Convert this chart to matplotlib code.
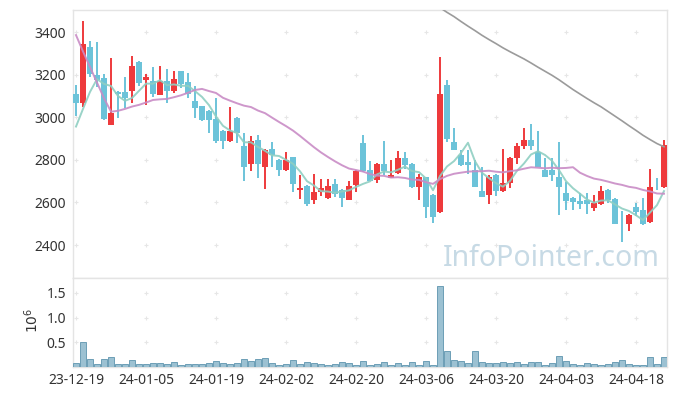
import numpy as np
import matplotlib
matplotlib.use("Agg")
import matplotlib.pyplot as plt

plt.rcParams['font.family'] = ['Noto Sans', 'DejaVu Sans']

# ---- data ----
opens = [3110, 3070, 3331, 3198, 3185, 2966, 3120, 3120, 3124, 3261,
         3177, 3171, 3107, 3171, 3124, 3218, 3165, 3077, 3054, 3031,
         2993, 2937, 2890, 2998, 2866, 2780, 2894, 2769, 2851, 2800,
         2753, 2814, 2660, 2678, 2614, 2650, 2619, 2688, 2660, 2614,
         2684, 2880, 2754, 2708, 2782, 2716, 2741, 2810, 2782, 2675,
         2719, 2636, 2553, 3153, 2885, 2824, 2791, 2754, 2655, 2633,
         2730, 2655, 2692, 2807, 2866, 2894, 2839, 2754, 2754, 2721,
         2646, 2622, 2608, 2613, 2575, 2594, 2660, 2617, 2500, 2497,
         2580, 2566, 2506, 2674, 2672]
highs = [3153, 3453, 3358, 3353, 3203, 3278, 3122, 3190, 3287, 3263,
         3203, 3238, 3242, 3226, 3218, 3220, 3210, 3149, 3056, 3033,
         3090, 2939, 3049, 3000, 2929, 2912, 2916, 2850, 2886, 2805,
         2837, 2816, 2729, 2680, 2733, 2710, 2710, 2710, 2662, 2702,
         2752, 2918, 2797, 2785, 2888, 2800, 2844, 2837, 2784, 2735,
         2721, 2638, 3285, 3176, 2949, 2847, 2847, 2800, 2769, 2730,
         2732, 2852, 2812, 2880, 2951, 2969, 2937, 2809, 2809, 2886,
         2697, 2624, 2643, 2645, 2636, 2678, 2662, 2619, 2558, 2545,
         2599, 2622, 2757, 2717, 2894]
lows = [3008, 3051, 3190, 3145, 2990, 2963, 2996, 3046, 3067, 3148,
        3057, 3095, 3105, 3067, 3114, 3137, 3093, 2996, 2985, 2926,
        2879, 2851, 2885, 2879, 2702, 2746, 2715, 2663, 2769, 2725,
        2750, 2650, 2616, 2584, 2595, 2631, 2615, 2628, 2578, 2610,
        2649, 2745, 2700, 2691, 2730, 2714, 2735, 2758, 2668, 2613,
        2527, 2503, 2550, 2886, 2845, 2772, 2735, 2673, 2625, 2594,
        2631, 2647, 2668, 2782, 2851, 2847, 2767, 2720, 2702, 2542,
        2566, 2566, 2569, 2547, 2561, 2590, 2597, 2497, 2412, 2464,
        2537, 2495, 2504, 2660, 2670]
closes = [3070, 3345, 3204, 3176, 2993, 3021, 3110, 3090, 3242, 3162,
          3190, 3110, 3171, 3124, 3181, 3157, 3110, 3046, 2988, 2988,
          2890, 2890, 2937, 2929, 2769, 2890, 2780, 2847, 2823, 2753,
          2800, 2688, 2669, 2591, 2650, 2669, 2678, 2642, 2619, 2678,
          2749, 2749, 2702, 2782, 2746, 2730, 2810, 2777, 2675, 2722,
          2581, 2534, 3110, 2900, 2847, 2774, 2774, 2675, 2628, 2722,
          2655, 2692, 2810, 2866, 2894, 2866, 2769, 2722, 2730, 2675,
          2605, 2603, 2594, 2594, 2599, 2655, 2610, 2497, 2497, 2541,
          2556, 2497, 2672, 2672, 2871]
volumes = [80000, 510000, 160000, 60000, 160000, 200000, 60000, 60000, 140000, 60000,
           60000, 80000, 80000, 60000, 100000, 40000, 60000, 60000, 60000, 80000,
           120000, 80000, 60000, 80000, 160000, 120000, 160000, 180000, 80000, 40000,
           60000, 140000, 60000, 100000, 80000, 60000, 40000, 60000, 100000, 80000,
           40000, 120000, 40000, 60000, 100000, 40000, 80000, 40000, 100000, 40000,
           120000, 40000, 1640000, 320000, 140000, 120000, 80000, 320000, 100000, 80000,
           80000, 100000, 80000, 100000, 60000, 100000, 100000, 40000, 80000, 220000,
           120000, 60000, 40000, 80000, 60000, 40000, 60000, 100000, 140000, 60000,
           40000, 40000, 200000, 60000, 200000]

# moving-average values at the start of the window (history before the first date)
ma5_head = [2957, 3040, 3120, 3180]
ma20_head = [3387, 3310, 3237, 3164, 3090, 3027, 3031, 3040, 3051, 3059,
             3070, 3082, 3085, 3087, 3095, 3104, 3116, 3129, 3134]
# long moving average (grey), visible from the 53rd session on
ma120_start = 52
ma120_vals = [3516, 3494, 3474, 3451, 3429, 3408, 3386, 3366, 3347, 3327,
              3309, 3292, 3275, 3256, 3236, 3217, 3198, 3177, 3154, 3131,
              3110, 3089, 3069, 3050, 3028, 3006, 2984, 2961, 2939, 2916,
              2896, 2877, 2862]

tick_labels = ['23-12-19', '24-01-05', '24-01-19', '24-02-02', '24-02-20',
               '24-03-06', '24-03-20', '24-04-03', '24-04-18']
tick_step = 10

# ---- derived ----
o = np.array(opens, float); h = np.array(highs, float)
l = np.array(lows, float); c = np.array(closes, float)
n = len(c)
x = np.arange(n)

def rolling(vals, w, head):
    out = list(head)
    for i in range(len(head), len(vals)):
        out.append(np.mean(vals[i - w + 1:i + 1]))
    return np.array(out)

ma5 = rolling(c, 5, ma5_head)
ma20 = rolling(c, 20, ma20_head)

UP = '#ee3a3c'
DOWN = '#6cc3d9'

fig = plt.figure(figsize=(6.77, 3.96), dpi=100)
ax = fig.add_axes([73/677, 1-278/396, (667-73)/677, (278-10)/396])
ax2 = fig.add_axes([73/677, 1-367/396, (667-73)/677, (367-278)/396], sharex=ax)

up = c >= o
cols = np.where(up, UP, DOWN)
ax.vlines(x, l, h, colors=cols, linewidth=1.4, zorder=2)
bottoms = np.minimum(o, c)
heights = np.maximum(np.abs(c - o), 3)
ax.bar(x, heights, bottom=bottoms, width=0.72, color=cols, linewidth=0, zorder=3)

ax.plot(x, ma5, color='#8fcfc2', lw=1.4, zorder=4, alpha=0.9)
ax.plot(x, ma20, color='#c98cc6', lw=1.4, zorder=4, alpha=0.9)
ax.plot(x[ma120_start:ma120_start + len(ma120_vals)], ma120_vals,
        color='#9b9b9b', lw=1.2, zorder=4)

ax.set_ylim(2245, 3505)
ax.set_xlim(-0.43, 84.43)
yt = [2400, 2600, 2800, 3000, 3200, 3400]
ax.set_yticks(yt)
ax.set_yticklabels([str(v) for v in yt])

xt = np.arange(0, len(tick_labels) * tick_step, tick_step)
gx, gy = np.meshgrid(xt, yt)
ax.scatter(gx.ravel(), gy.ravel(), marker='+', s=10, color='#e6e6e6', linewidths=0.8, zorder=0)

vol = np.array(volumes, float) / 1e6
ax2.bar(x, vol, width=0.9, color='#9cc1d2', edgecolor='#6d9fb6', linewidth=0.7, zorder=3)
ax2.set_ylim(0, 1.8)
vt = [0.5, 1.0, 1.5]
ax2.set_yticks(vt)
ax2.set_yticklabels(['0.5', '1.0', '1.5'])
gx2, gy2 = np.meshgrid(xt, vt)
ax2.scatter(gx2.ravel(), gy2.ravel(), marker='+', s=10, color='#e6e6e6', linewidths=0.8, zorder=0)

ax2.set_xticks(xt)
ax2.set_xticklabels(tick_labels)
plt.setp(ax.get_xticklabels(), visible=False)

for a in (ax, ax2):
    for s in a.spines.values():
        s.set_color('#e4e4e4')
        s.set_linewidth(1.0)
    a.tick_params(length=0, labelsize=10, colors='#333333', pad=5)
ax2.tick_params(axis='x', labelsize=10, pad=4)

fig.text(33/677, 1-320/396, r'$10^6$', rotation=90, ha='center', va='center',
         fontsize=10, color='#333333')

fig.text(660/677, 1-266/396, 'InfoPointer.com', ha='right', va='baseline',
         fontsize=20.5, color='#c7dae5', zorder=1)

fig.savefig('out.png', dpi=100)
